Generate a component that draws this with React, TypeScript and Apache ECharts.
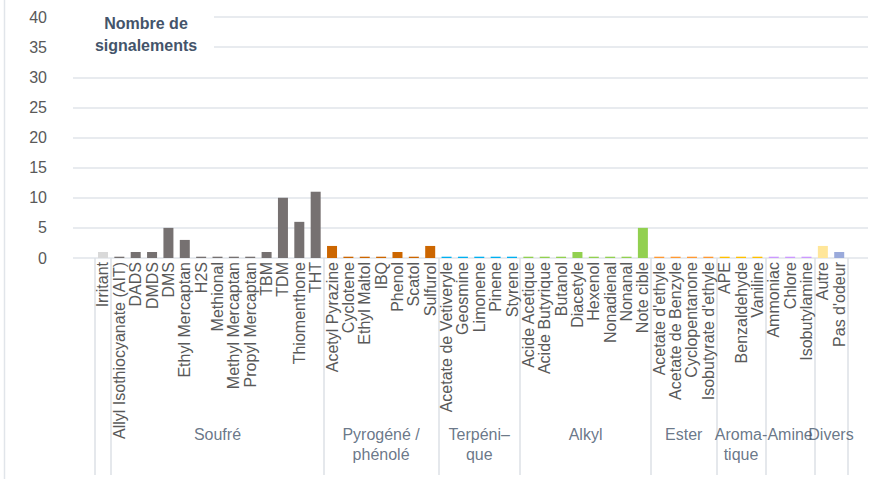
import React, { useEffect, useRef } from "react";
import * as echarts from "echarts";

const CATEGORIES = [
  "Irritant",
  "Allyl Isothiocyanate (AIT)", "DADS", "DMDS", "DMS", "Ethyl Mercaptan", "H2S", "Methional",
  "Methyl Mercaptan", "Propyl Mercaptan", "TBM", "TDM", "Thiomenthone", "THT",
  "Acetyl Pyrazine", "Cyclotene", "Ethyl Maltol", "IBQ", "Phenol", "Scatol", "Sulfurol",
  "Acetate de Vetiveryle", "Geosmine", "Limonene", "Pinene", "Styrene",
  "Acide Acetique", "Acide Butyrique", "Butanol", "Diacetyle", "Hexenol", "Nonadienal", "Nonanal", "Note cible",
  "Acetate d'ethyle", "Acetate de Benzyle", "Cyclopentanone", "Isobutyrate d'ethyle",
  "APE", "Benzaldehyde", "Vaniline",
  "Ammoniac", "Chlore", "Isobutylamine",
  "Autre", "Pas d'odeur",
];

const VALUES = [
  1,
  0, 1, 1, 5, 3, 0, 0, 0, 0, 1, 10, 6, 11,
  2, 0, 0, 0, 1, 0, 2,
  0, 0, 0, 0, 0,
  0, 0, 0, 1, 0, 0, 0, 5,
  0, 0, 0, 0,
  0, 0, 0,
  0, 0, 0,
  2, 1,
];

const GROUP_NAMES = ["", "Soufré", "Pyrogéné /\nphénolé", "Terpéni–\nque", "Alkyl", "Ester", "Aroma-\ntique", "Amine", "Divers"];
const GROUP_SIZES = [1, 13, 7, 5, 8, 4, 3, 3, 2];

const Y_MAX = 40;
const Y_STEP = 5;

// styles
const GROUP_COLORS = ["#d9d9d9", "#767171", "#cc6600", "#00b0f0", "#92d050", "#ff9933", "#ffc000", "#cc99ff", "#ffe699"];
const COLOR_OVERRIDES: Record<string, string> = { "Pas d'odeur": "#9aaadb" };

const FONT = "'Liberation Sans', Arial, sans-serif";

export default function App() {
  const ref = useRef<HTMLDivElement>(null);
  useEffect(() => {
    if (!ref.current) return;
    const chart = echarts.init(ref.current, null, { renderer: "svg" });

    const boundaries: number[] = [0];
    GROUP_SIZES.forEach((s) => boundaries.push(boundaries[boundaries.length - 1] + s));
    const centers = GROUP_SIZES.map((_, i) => (boundaries[i] + boundaries[i + 1]) / 2);
    const colors: string[] = [];
    GROUP_SIZES.forEach((s, g) => {
      for (let k = 0; k < s; k++) colors.push(GROUP_COLORS[g]);
    });
    const barColors = CATEGORIES.map((c, i) => COLOR_OVERRIDES[c] || colors[i]);

    chart.setOption({
      animation: false,
      textStyle: { fontFamily: FONT },
      grid: [
        { left: 73, right: 23, top: 17, bottom: 221 },
        { left: 94.8, right: 43.6, top: 17, bottom: 221 },
      ],
      xAxis: [
        { gridIndex: 0, type: "value", show: false, min: 0, max: 1 },
        {
          gridIndex: 1,
          type: "category",
          data: CATEGORIES,
          axisLine: { show: false },
          axisTick: { show: false },
          axisLabel: { interval: 0, rotate: 90, margin: 4, fontSize: 16, color: "#595959", fontFamily: FONT },
        },
        {
          gridIndex: 1,
          type: "value",
          min: 0,
          max: boundaries[boundaries.length - 1],
          position: "bottom",
          axisLine: { show: false },
          splitLine: { show: false },
          axisTick: {
            show: true,
            customValues: boundaries,
            length: 217,
            lineStyle: { color: "#dde1e6", width: 1.5 },
          },
          axisLabel: { show: false },
        },
      ],
      yAxis: [
        {
          gridIndex: 0,
          type: "value",
          min: 0,
          max: Y_MAX,
          interval: Y_STEP,
          axisLine: { show: false },
          axisTick: { show: false },
          splitLine: { lineStyle: { color: "#e1e5ea", width: 1.5 } },
          axisLabel: { margin: 26, fontSize: 16, color: "#595959", fontFamily: FONT },
        },
        { gridIndex: 1, type: "value", min: 0, max: Y_MAX, show: false },
      ],
      series: [
        {
          type: "custom",
          xAxisIndex: 1,
          yAxisIndex: 1,
          data: VALUES.map((v, i) => [i, v]),
          encode: { x: 0, y: 1 },
          renderItem: (params: any, api: any) => {
            const i = api.value(0);
            const v = api.value(1);
            const top = api.coord([i, v]);
            const base = api.coord([i, 0]);
            let h = base[1] - top[1];
            if (h < 1.3) h = 1.3;
            return {
              type: "rect",
              shape: { x: top[0] - 5, y: base[1] - h, width: 10, height: h },
              style: { fill: barColors[params.dataIndex] },
            };
          },
        },
        {
          type: "scatter",
          xAxisIndex: 2,
          yAxisIndex: 1,
          clip: false,
          symbolSize: 0.1,
          itemStyle: { color: "rgba(0,0,0,0)" },
          silent: true,
          data: centers.map((c, i) => ({ value: [c, 0], name: GROUP_NAMES[i] })),
          label: {
            show: true,
            formatter: "{b}",
            position: [0, 167],
            align: "center",
            verticalAlign: "top",
            fontSize: 16,
            lineHeight: 20,
            color: "#44546a",
            fontFamily: FONT,
          },
          labelLayout: { hideOverlap: false },
        },
      ],
      graphic: [
        {
          type: "line",
          z: 100,
          shape: { x1: 4.5, y1: 0, x2: 4.5, y2: 479 },
          style: { stroke: "#e1e5ea", lineWidth: 1.5 },
        },
        {
          type: "rect",
          z: 100,
          shape: { x: 70, y: 5, width: 144, height: 50 },
          style: { fill: "#ffffff" },
        },
        {
          type: "text",
          z: 101,
          x: 146,
          y: 12,
          style: {
            text: "Nombre de\nsignalements",
            font: `bold 16px ${FONT}`,
            fill: "#44546a",
            align: "center",
            verticalAlign: "top",
            lineHeight: 22,
          },
        },
      ],
    });
    return () => chart.dispose();
  }, []);

  return (
    <div
      ref={ref}
      style={{ position: "absolute", left: 0, top: 0, width: 891, height: 479, background: "#fff" }}
    />
  );
}
